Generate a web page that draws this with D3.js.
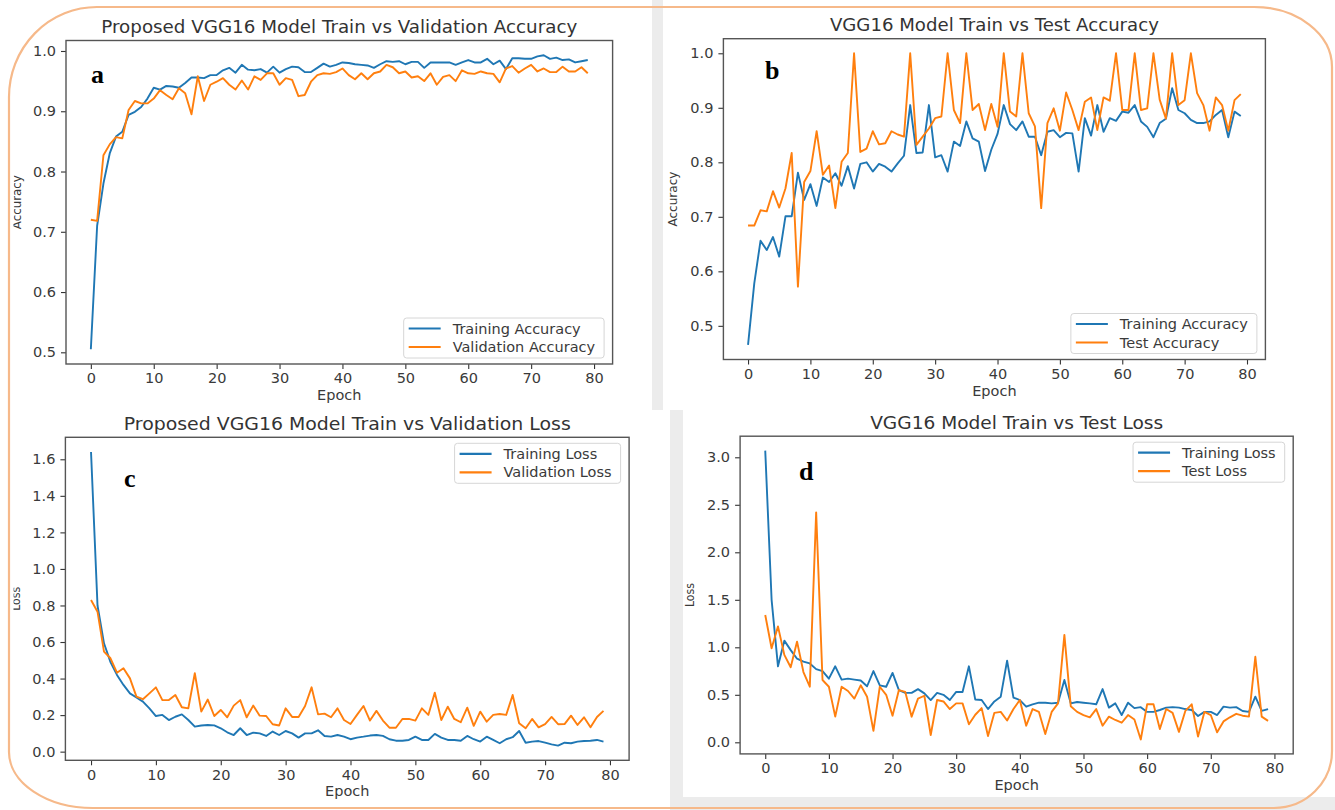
<!DOCTYPE html>
<html><head><meta charset="utf-8">
<script src="https://cdn.jsdelivr.net/npm/d3@7"></script>
<style>body{margin:0;background:#fff;} svg{display:block;}</style>
</head><body>
<svg id="chart" width="1335" height="810"></svg>
<script>
const epochs = d3.range(80);
const xTicks = [0,10,20,30,40,50,60,70,80];
const accTicks = [0.5,0.6,0.7,0.8,0.9,1.0];
const lossTicksC = [0,0.2,0.4,0.6,0.8,1.0,1.2,1.4,1.6];
const lossTicksD = [0,0.5,1.0,1.5,2.0,2.5,3.0];

const accTrainA = [0.505,0.71,0.78,0.83,0.858,0.866,0.894,0.899,0.907,0.921,
 0.939,0.936,0.942,0.941,0.939,0.947,0.956,0.956,0.955,0.96,
 0.96,0.968,0.972,0.964,0.977,0.969,0.968,0.970,0.964,0.974,
 0.964,0.970,0.974,0.973,0.965,0.965,0.972,0.979,0.974,0.977,
 0.981,0.980,0.978,0.977,0.976,0.972,0.978,0.983,0.982,0.983,
 0.978,0.982,0.982,0.972,0.981,0.981,0.981,0.981,0.977,0.981,
 0.985,0.981,0.981,0.987,0.978,0.984,0.970,0.988,0.988,0.987,
 0.987,0.991,0.993,0.987,0.989,0.985,0.986,0.981,0.983,0.985];
const accValA = [0.72,0.718,0.827,0.845,0.857,0.855,0.902,0.917,0.913,0.913,
 0.921,0.935,0.927,0.92,0.938,0.93,0.895,0.958,0.917,0.944,
 0.949,0.955,0.944,0.936,0.951,0.936,0.958,0.952,0.963,0.963,
 0.944,0.955,0.952,0.925,0.927,0.949,0.96,0.963,0.962,0.965,
 0.971,0.960,0.953,0.963,0.953,0.963,0.966,0.977,0.973,0.963,
 0.966,0.956,0.958,0.950,0.963,0.944,0.957,0.960,0.950,0.968,
 0.963,0.962,0.966,0.963,0.962,0.948,0.971,0.975,0.964,0.971,
 0.977,0.966,0.971,0.965,0.965,0.974,0.966,0.966,0.973,0.963];

const accTrainB = [0.465,0.578,0.656,0.639,0.663,0.627,0.701,0.701,0.781,0.731,
 0.760,0.720,0.772,0.764,0.780,0.757,0.793,0.752,0.797,0.800,
 0.783,0.797,0.792,0.783,0.798,0.812,0.905,0.817,0.818,0.905,
 0.809,0.813,0.783,0.838,0.830,0.875,0.844,0.838,0.784,0.823,
 0.852,0.905,0.870,0.859,0.875,0.847,0.847,0.813,0.856,0.859,
 0.846,0.854,0.853,0.783,0.881,0.849,0.905,0.856,0.881,0.876,
 0.893,0.891,0.905,0.875,0.865,0.846,0.872,0.880,0.936,0.896,
 0.890,0.878,0.872,0.872,0.875,0.887,0.896,0.846,0.893,0.885];
const accTestB = [0.684,0.684,0.712,0.710,0.747,0.717,0.752,0.817,0.572,0.764,
 0.784,0.857,0.777,0.794,0.716,0.801,0.817,1.0,0.819,0.825,
 0.857,0.833,0.835,0.857,0.851,0.847,1.0,0.832,0.847,0.862,
 0.881,0.884,1.0,0.896,0.872,1.0,0.896,0.907,0.859,0.907,
 0.865,1.0,0.893,0.884,1.0,0.890,0.866,0.716,0.872,0.899,
 0.858,0.928,0.896,0.859,0.911,0.919,0.859,0.919,0.913,1.0,
 0.896,0.896,1.0,0.896,0.899,1.0,0.915,0.880,1.0,0.905,
 0.914,1.0,0.927,0.905,0.858,0.919,0.905,0.858,0.914,0.925];

const lossTrainC = [1.64,0.80,0.593,0.49,0.42,0.365,0.319,0.296,0.274,0.237,
 0.195,0.201,0.173,0.191,0.204,0.173,0.137,0.143,0.146,0.144,
 0.128,0.106,0.091,0.128,0.091,0.104,0.100,0.086,0.110,0.091,
 0.113,0.100,0.077,0.100,0.100,0.117,0.086,0.082,0.091,0.082,
 0.068,0.077,0.082,0.088,0.091,0.086,0.068,0.060,0.060,0.064,
 0.082,0.064,0.064,0.097,0.077,0.064,0.064,0.060,0.086,0.068,
 0.055,0.082,0.064,0.046,0.068,0.079,0.113,0.049,0.055,0.058,
 0.049,0.040,0.033,0.049,0.046,0.055,0.058,0.060,0.064,0.055];
const lossValC = [0.83,0.766,0.547,0.511,0.432,0.456,0.401,0.301,0.287,0.319,
 0.352,0.282,0.282,0.310,0.243,0.237,0.429,0.219,0.285,0.195,
 0.228,0.188,0.252,0.282,0.188,0.252,0.197,0.195,0.150,0.143,
 0.237,0.190,0.190,0.250,0.352,0.204,0.208,0.188,0.237,0.173,
 0.151,0.201,0.250,0.170,0.223,0.170,0.131,0.131,0.179,0.179,
 0.170,0.237,0.201,0.323,0.173,0.246,0.179,0.161,0.241,0.141,
 0.219,0.164,0.201,0.206,0.201,0.310,0.155,0.128,0.179,0.133,
 0.151,0.190,0.150,0.151,0.197,0.146,0.188,0.133,0.190,0.223];

const lossTrainD = [3.07,1.5,0.80,1.07,0.97,0.88,0.85,0.83,0.77,0.75,
 0.67,0.80,0.66,0.67,0.66,0.65,0.59,0.75,0.60,0.585,
 0.73,0.55,0.52,0.52,0.56,0.515,0.445,0.52,0.50,0.445,
 0.53,0.53,0.80,0.45,0.445,0.35,0.43,0.48,0.86,0.47,
 0.445,0.375,0.40,0.417,0.417,0.41,0.417,0.656,0.41,0.424,
 0.417,0.41,0.40,0.56,0.365,0.41,0.287,0.417,0.36,0.37,
 0.32,0.32,0.34,0.365,0.37,0.365,0.35,0.34,0.277,0.32,
 0.32,0.287,0.375,0.365,0.37,0.33,0.32,0.48,0.33,0.35];
const lossTestD = [1.34,0.99,1.22,0.92,0.79,1.06,0.74,0.585,2.42,0.656,
 0.585,0.27,0.585,0.54,0.46,0.60,0.48,0.12,0.585,0.50,
 0.28,0.55,0.53,0.27,0.46,0.49,0.077,0.445,0.43,0.35,
 0.41,0.41,0.19,0.29,0.36,0.066,0.31,0.32,0.23,0.35,
 0.445,0.175,0.35,0.32,0.087,0.32,0.41,1.13,0.38,0.32,
 0.287,0.263,0.35,0.175,0.27,0.235,0.206,0.287,0.24,0.03,
 0.40,0.40,0.14,0.35,0.31,0.11,0.33,0.40,0.06,0.32,
 0.287,0.105,0.22,0.263,0.30,0.28,0.27,0.90,0.27,0.226];

const BLUE = '#1f77b4', ORANGE = '#ff7f0e';
const FONT = 'DejaVu Sans, sans-serif';

const panels = [
 {tag:'a', title:'Proposed VGG16 Model Train vs Validation Accuracy', titleW:476, ylabel:'Accuracy', ylabW:54, ylabX:17,
  s1:accTrainA, s2:accValA, n1:'Training Accuracy', n2:'Validation Accuracy', yt:accTicks, fmt:'.1f',
  box:{l:66, r:612.6, t:40.5, b:364}, legend:'lower', tagPos:[91,83]},
 {tag:'b', title:'VGG16 Model Train vs Test Accuracy', titleW:329, ylabel:'Accuracy', ylabW:55, ylabX:673,
  s1:accTrainB, s2:accTestB, n1:'Training Accuracy', n2:'Test Accuracy', yt:accTicks, fmt:'.1f',
  box:{l:723.4, r:1265.4, t:38.7, b:359.5}, legend:'lower', tagPos:[765,79]},
 {tag:'c', title:'Proposed VGG16 Model Train vs Validation Loss', titleW:447, ylabel:'Loss', ylabW:24, ylabX:16,
  s1:lossTrainC, s2:lossValC, n1:'Training Loss', n2:'Validation Loss', yt:lossTicksC, fmt:'.1f',
  box:{l:65.4, r:629.1, t:437.3, b:760.3}, legend:'upper', tagPos:[124,487]},
 {tag:'d', title:'VGG16 Model Train vs Test Loss', titleW:293, ylabel:'Loss', ylabW:24, ylabX:690,
  s1:lossTrainD, s2:lossTestD, n1:'Training Loss', n2:'Test Loss', yt:lossTicksD, fmt:'.1f',
  box:{l:740.1, r:1293.2, t:436.2, b:753.9}, legend:'upper', tagPos:[799,480]}
];

const svg = d3.select('#chart');
svg.append('rect').attr('width',1335).attr('height',810).attr('fill','#fff');

const gray = '#ececec';
svg.append('rect').attr('x',652).attr('y',0).attr('width',11).attr('height',410).attr('fill',gray);
svg.append('rect').attr('x',670).attr('y',410).attr('width',13).attr('height',400).attr('fill',gray);
svg.append('rect').attr('x',670).attr('y',797).attr('width',665).attr('height',13).attr('fill',gray);

const defs = svg.append('defs');
defs.append('clipPath').attr('id','leftclip').attr('clipPathUnits','userSpaceOnUse').append('rect')
  .attr('x',13.5).attr('y',0).attr('width',1322).attr('height',810);

panels.forEach(p => {
  const g = svg.append('g');
  const B = p.box;
  const all = p.s1.concat(p.s2);
  const mn = d3.min(all), mx = d3.max(all), pad = (mx - mn) * 0.05;
  const x = d3.scaleLinear().domain([-0.05*79, 79*1.05]).range([B.l, B.r]);
  const y = d3.scaleLinear().domain([mn - pad, mx + pad]).range([B.b, B.t]);

  const xa = g.append('g').attr('transform',`translate(0,${B.b})`)
    .call(d3.axisBottom(x).tickValues(xTicks).tickSize(5).tickPadding(4).tickFormat(d3.format('d')));
  xa.select('.domain').remove();
  xa.selectAll('line').attr('stroke','#333').attr('stroke-width',1.1);
  xa.selectAll('text').attr('font-family',FONT).attr('font-size',14.5).attr('fill','#3a3a3a');

  const ya = g.append('g').attr('transform',`translate(${B.l},0)`)
    .call(d3.axisLeft(y).tickValues(p.yt).tickSize(5).tickPadding(5).tickFormat(d3.format(p.fmt)));
  ya.select('.domain').remove();
  ya.selectAll('line').attr('stroke','#333').attr('stroke-width',1.1);
  ya.selectAll('text').attr('font-family',FONT).attr('font-size',14.5).attr('fill','#3a3a3a');

  const line = d3.line().x((d,i)=>x(epochs[i])).y(d=>y(d));
  g.append('path').datum(p.s1).attr('d',line).attr('fill','none')
    .attr('stroke',BLUE).attr('stroke-width',1.9).attr('stroke-linejoin','round');
  g.append('path').datum(p.s2).attr('d',line).attr('fill','none')
    .attr('stroke',ORANGE).attr('stroke-width',1.9).attr('stroke-linejoin','round');

  g.append('rect').attr('x',B.l).attr('y',B.t).attr('width',B.r-B.l).attr('height',B.b-B.t)
    .attr('fill','none').attr('stroke','#555').attr('stroke-width',1.4);

  g.append('text').attr('x',(B.l+B.r)/2).attr('y',B.t-7.7).attr('text-anchor','middle')
    .attr('font-family',FONT).attr('font-size',17).attr('fill','#333')
    .attr('textLength',p.titleW).attr('lengthAdjust','spacingAndGlyphs').text(p.title);

  g.append('text').attr('x',(B.l+B.r)/2).attr('y',B.b+36).attr('text-anchor','middle')
    .attr('font-family',FONT).attr('font-size',14.5).attr('fill','#3a3a3a').text('Epoch');

  const yl = g.append('g');
  if (p.ylabX < 40) yl.attr('clip-path','url(#leftclip)');
  yl.append('text').attr('transform',`translate(${p.ylabX},${(B.t+B.b)/2}) rotate(-90)`)
    .attr('text-anchor','middle').attr('dy','0.35em')
    .attr('font-family',FONT).attr('font-size',12.5).attr('fill','#3a3a3a')
    .attr('textLength',p.ylabW).attr('lengthAdjust','spacingAndGlyphs').text(p.ylabel);

  const lg = g.append('g');
  const t1 = lg.append('text').attr('font-family',FONT).attr('font-size',14.5).text(p.n1);
  const t2 = lg.append('text').attr('font-family',FONT).attr('font-size',14.5).text(p.n2);
  const tw1 = t1.node().getComputedTextLength(), tw2 = t2.node().getComputedTextLength();
  t1.remove(); t2.remove();
  const lw = 48 + Math.max(tw1, tw2) + 10, lh = 40;
  const lx = B.r - 8.5 - lw;
  const ly = p.legend === 'lower' ? B.b - 6 - lh : B.t + 6;
  lg.append('rect').attr('x',lx).attr('y',ly).attr('width',lw).attr('height',lh).attr('rx',3)
    .attr('fill','#fff').attr('fill-opacity',0.85).attr('stroke','#d6d6d6').attr('stroke-width',1);
  [[p.n1,BLUE],[p.n2,ORANGE]].forEach((it,k) => {
    const cy = ly + 10.5 + k*18.5;
    lg.append('line').attr('x1',lx+5).attr('x2',lx+37).attr('y1',cy).attr('y2',cy)
      .attr('stroke',it[1]).attr('stroke-width',2.2);
    lg.append('text').attr('x',lx+49).attr('y',cy).attr('dy','0.35em')
      .attr('font-family',FONT).attr('font-size',14.5).attr('fill','#3a3a3a').text(it[0]);
  });

  g.append('text').attr('x',p.tagPos[0]).attr('y',p.tagPos[1])
    .attr('font-family','Liberation Serif, serif').attr('font-weight','bold')
    .attr('font-size',26).attr('fill','#000').text(p.tag);
});

const bx0 = 9, by0 = 7, bx1 = 1332, by1 = 808;
const tl=[88,90], tr=[78,60], br=[58,57], bl=[84,56];
const border = `M${bx0+tl[0]},${by0} L${bx1-tr[0]},${by0} A${tr[0]},${tr[1]} 0 0 1 ${bx1},${by0+tr[1]} `+
  `L${bx1},${by1-br[1]} A${br[0]},${br[1]} 0 0 1 ${bx1-br[0]},${by1} L${bx0+bl[0]},${by1} `+
  `A${bl[0]},${bl[1]} 0 0 1 ${bx0},${by1-bl[1]} L${bx0},${by0+tl[1]} A${tl[0]},${tl[1]} 0 0 1 ${bx0+tl[0]},${by0} Z`;
svg.append('path').attr('d',border).attr('fill','none').attr('stroke','#f6b98a').attr('stroke-width',2.2);
</script>
</body></html>
